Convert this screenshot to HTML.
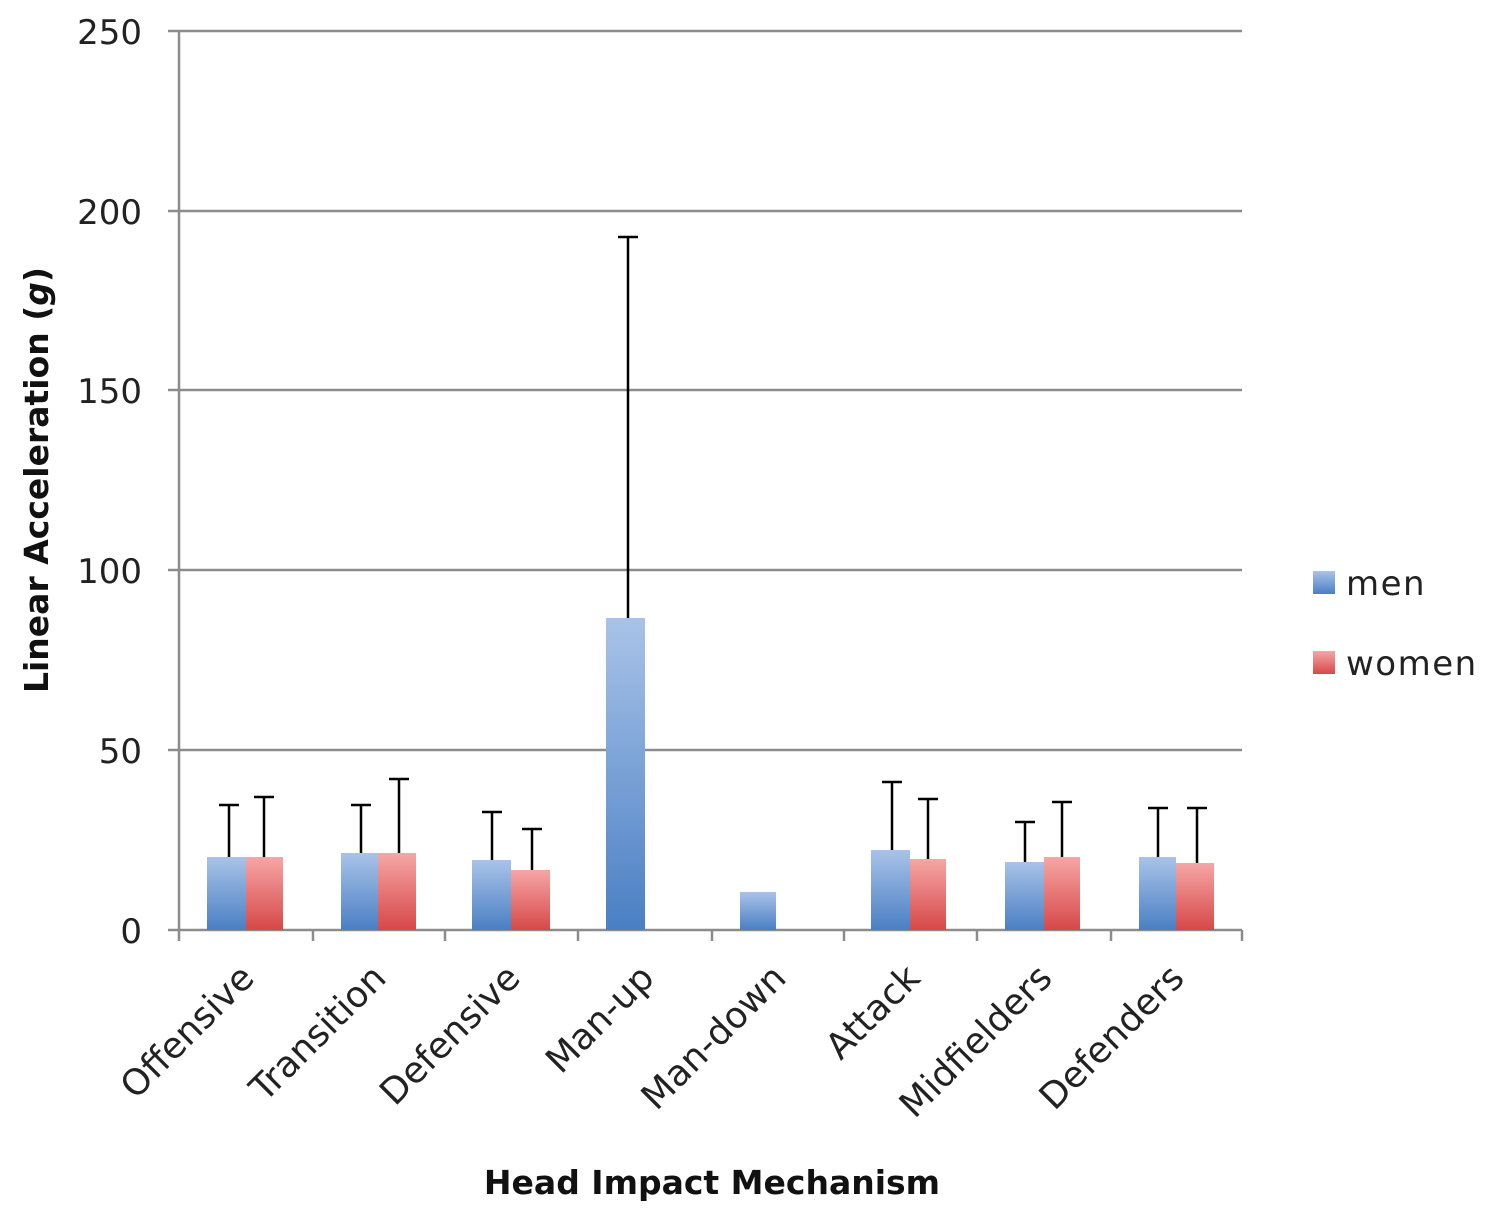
<!DOCTYPE html>
<html><head><meta charset="utf-8"><style>html,body{margin:0;padding:0;background:#fff}</style></head>
<body>
<svg width="1500" height="1212" viewBox="0 0 1500 1212" xmlns="http://www.w3.org/2000/svg" font-family="DejaVu Sans, Liberation Sans, sans-serif">
<defs>
<linearGradient id="gm" x1="0" y1="0" x2="0" y2="1"><stop offset="0" stop-color="#a9c3e8"/><stop offset="1" stop-color="#4a7fc4"/></linearGradient>
<linearGradient id="gw" x1="0" y1="0" x2="0" y2="1"><stop offset="0" stop-color="#f6a6a6"/><stop offset="1" stop-color="#d74848"/></linearGradient>
</defs>
<g stroke="#8c8c8c" stroke-width="2.5">
<line x1="179" y1="31" x2="1242" y2="31"/>
<line x1="179" y1="211" x2="1242" y2="211"/>
<line x1="179" y1="390" x2="1242" y2="390"/>
<line x1="179" y1="570" x2="1242" y2="570"/>
<line x1="179" y1="750" x2="1242" y2="750"/>
<line x1="179" y1="930" x2="1242" y2="930"/>
<line x1="179" y1="31" x2="179" y2="930"/>
<line x1="168" y1="31" x2="179" y2="31"/><line x1="168" y1="211" x2="179" y2="211"/><line x1="168" y1="390" x2="179" y2="390"/><line x1="168" y1="570" x2="179" y2="570"/><line x1="168" y1="750" x2="179" y2="750"/><line x1="168" y1="930" x2="179" y2="930"/>
<line x1="179" y1="930" x2="179" y2="941"/><line x1="313" y1="930" x2="313" y2="941"/><line x1="445" y1="930" x2="445" y2="941"/><line x1="578" y1="930" x2="578" y2="941"/><line x1="712" y1="930" x2="712" y2="941"/><line x1="844" y1="930" x2="844" y2="941"/><line x1="977" y1="930" x2="977" y2="941"/><line x1="1111" y1="930" x2="1111" y2="941"/><line x1="1242" y1="930" x2="1242" y2="941"/>
</g>
<g font-size="34" fill="#222" text-anchor="end">
<text x="142" y="44">250</text><text x="142" y="224">200</text><text x="142" y="403">150</text><text x="142" y="583">100</text><text x="142" y="763">50</text><text x="142" y="943">0</text>
</g>
<rect x="207" y="857" width="39" height="73" fill="url(#gm)"/>
<rect x="246" y="857" width="37" height="73" fill="url(#gw)"/>
<rect x="341" y="853" width="37" height="77" fill="url(#gm)"/>
<rect x="378" y="853" width="38" height="77" fill="url(#gw)"/>
<rect x="472" y="860" width="39" height="70" fill="url(#gm)"/>
<rect x="511" y="870" width="39" height="60" fill="url(#gw)"/>
<rect x="606" y="618" width="39" height="312" fill="url(#gm)"/>
<rect x="740" y="892" width="36" height="38" fill="url(#gm)"/>
<rect x="871" y="850" width="39" height="80" fill="url(#gm)"/>
<rect x="910" y="859" width="36" height="71" fill="url(#gw)"/>
<rect x="1005" y="862" width="39" height="68" fill="url(#gm)"/>
<rect x="1044" y="857" width="36" height="73" fill="url(#gw)"/>
<rect x="1139" y="857" width="37" height="73" fill="url(#gm)"/>
<rect x="1176" y="863" width="38" height="67" fill="url(#gw)"/>
<g stroke="#000" stroke-width="2.5" fill="none">
<path d="M229 857V805M219 805H239"/>
<path d="M264 857V797M254 797H274"/>
<path d="M361 853V805M351 805H371"/>
<path d="M399 853V779M389 779H409"/>
<path d="M492 860V812M482 812H502"/>
<path d="M532 870V829M522 829H542"/>
<path d="M628 618V237M618 237H638"/>
<path d="M892 850V782M882 782H902"/>
<path d="M928 859V799M918 799H938"/>
<path d="M1025 862V822M1015 822H1035"/>
<path d="M1062 857V802M1052 802H1072"/>
<path d="M1158 857V808M1148 808H1168"/>
<path d="M1197 863V808M1187 808H1207"/>
</g>
<g font-size="36" fill="#222" text-anchor="end">
<text transform="translate(256,980) rotate(-45)">Offensive</text>
<text transform="translate(388,980) rotate(-45)">Transition</text>
<text transform="translate(522,980) rotate(-45)">Defensive</text>
<text transform="translate(656,980) rotate(-45)">Man-up</text>
<text transform="translate(788,980) rotate(-45)">Man-down</text>
<text transform="translate(922,980) rotate(-45)">Attack</text>
<text transform="translate(1054,980) rotate(-45)">Midfielders</text>
<text transform="translate(1186,980) rotate(-45)">Defenders</text>
</g>
<text x="712" y="1194" font-size="33" font-weight="bold" text-anchor="middle" fill="#111">Head Impact Mechanism</text>
<text transform="translate(48,480) rotate(-90)" font-size="33" font-weight="bold" text-anchor="middle" fill="#111">Linear Acceleration (<tspan font-style="italic">g</tspan>)</text>
<rect x="1313" y="571" width="22" height="23" fill="url(#gm)"/>
<text x="1346" y="595" font-size="34" letter-spacing="1.5" fill="#222">men</text>
<rect x="1313" y="651" width="22" height="23" fill="url(#gw)"/>
<text x="1346" y="675" font-size="34" letter-spacing="1.5" fill="#222">women</text>
</svg>
</body></html>
